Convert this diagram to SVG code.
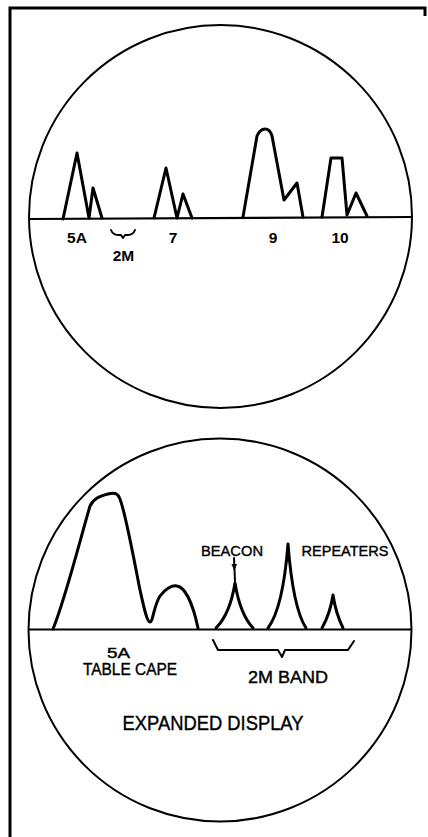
<svg xmlns="http://www.w3.org/2000/svg" width="428" height="837" viewBox="0 0 428 837">
<style>
.frame{stroke:#000;stroke-width:3;fill:none}
.scope{stroke:#000;stroke-width:2;fill:none}
.base{stroke:#000;stroke-width:2.2;fill:none}
.trace{stroke:#000;stroke-width:3;fill:none;stroke-linejoin:round;stroke-linecap:round}
.thin{stroke:#000;stroke-width:2;fill:none;stroke-linejoin:round;stroke-linecap:round}
.lbl{font-family:"Liberation Sans",Arial,sans-serif;fill:#000;text-anchor:middle}
.m{stroke:#000;stroke-width:0.4}
.b{font-weight:bold}
</style>
<rect width="428" height="837" fill="#fff"/>
<g id="frame">
<path class="frame" d="M10,837 L10,8 L425,8 L425,16"/>
</g>
<g id="top-display">
<circle class="scope" cx="220.5" cy="216.5" r="191.5"/>
<path class="base" d="M29,219 L412,217"/>
<path class="trace" d="M63,219 L77,153 L89,218 L93,188 L102,218"/>
<path class="trace" d="M154,218 L166,168 L177,218 L183,194 L192,218"/>
<path class="trace" d="M243,217 L257,136 Q260,129 265,129 Q270,129 272,136 L284,200 L297,183 L303,217"/>
<path class="trace" d="M322,217 L331,158 L342,158 L347,215 L356,193 L367,216"/>
<path class="thin" d="M111,230 Q113,235 118,235 L121,235 L123,238 L125,235 L128,235 Q133,235 135,230"/>
<text class="lbl b" x="77" y="243" font-size="15.5">5A</text>
<text class="lbl b" x="123.5" y="261" font-size="15.5">2M</text>
<text class="lbl b" x="173" y="243" font-size="15.5">7</text>
<text class="lbl b" x="273" y="243" font-size="15.5">9</text>
<text class="lbl b" x="340" y="243" font-size="15.5">10</text>
</g>
<g id="expanded-display">
<circle class="scope" cx="220" cy="630" r="191.5"/>
<path class="base" d="M28,629.5 L411,629.5"/>
<path class="trace" d="M53,629 C65,600 80,540 90,506 C94,498 100,496 108,494 C116,492 118,494 120,499 C126,515 134,560 140,590 C144,608 147,622 150,622 C153,622 154,605 160,596 C165,589 172,585 177,586 C184,587 192,600 198,628"/>
<path class="trace" d="M216,628 Q230,614 235,583 Q240,614 253,628"/>
<path class="trace" d="M268,628 Q283,608 288,544 Q293,608 306,628"/>
<path d="M286,562 L288,542 L290,562 Z" fill="#000"/>
<path class="trace" d="M322,628 Q330,614 333,595 Q336,614 343,628"/>
<path class="thin" d="M234,558 L235,581"/>
<path d="M231.5,564 L237,564 L234.3,571 Z" fill="#000"/>
<path class="thin" d="M213,640 L218,650 L278,650 L282,657 L285,650 L348,650 L354,641"/>
<text class="lbl m" x="232" y="556" font-size="15" textLength="62" lengthAdjust="spacingAndGlyphs">BEACON</text>
<text class="lbl m" x="345" y="556" font-size="15" textLength="87" lengthAdjust="spacingAndGlyphs">REPEATERS</text>
<text class="lbl m" x="118.5" y="658" font-size="14" textLength="23" lengthAdjust="spacingAndGlyphs">5A</text>
<text class="lbl m" x="130" y="675" font-size="17" textLength="94" lengthAdjust="spacingAndGlyphs">TABLE CAPE</text>
<text class="lbl m" x="288" y="682.5" font-size="17" textLength="80" lengthAdjust="spacingAndGlyphs">2M BAND</text>
<text class="lbl m" x="213" y="730" font-size="20.5" textLength="181" lengthAdjust="spacingAndGlyphs">EXPANDED DISPLAY</text>
</g>
</svg>
